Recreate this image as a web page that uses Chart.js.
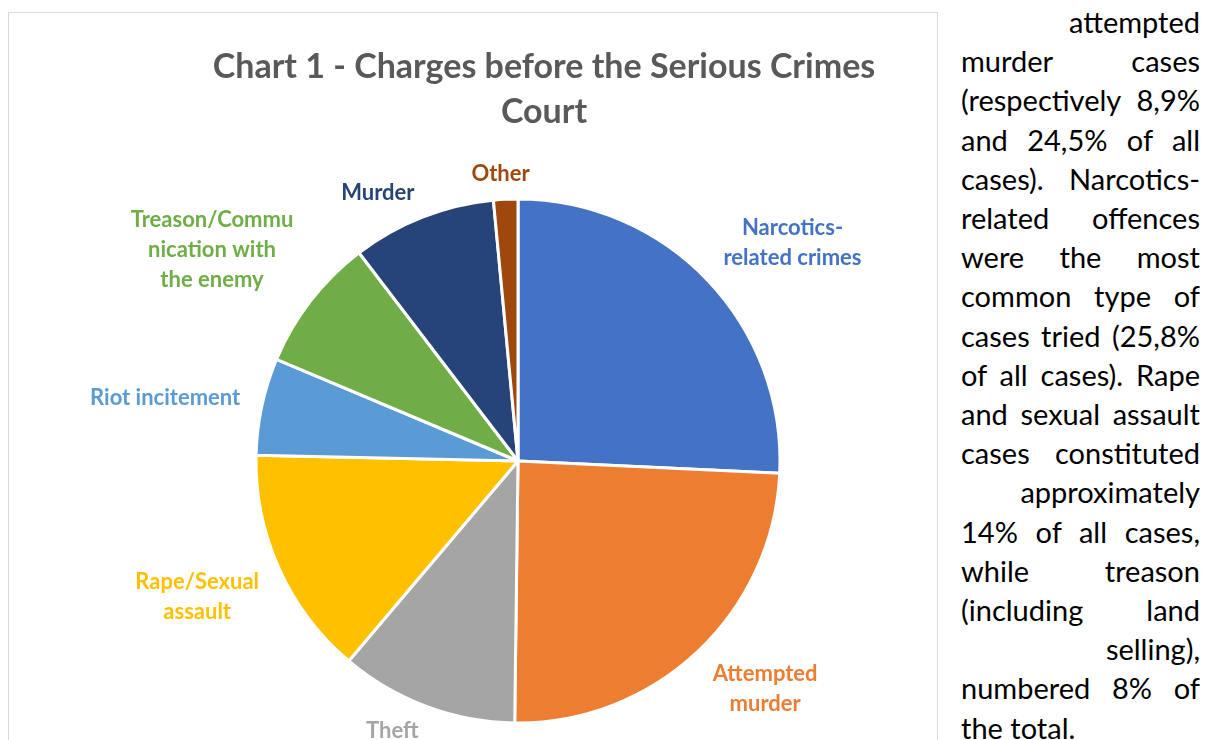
<!DOCTYPE html>
<html>
<head>
<meta charset="utf-8">
<script src="https://cdn.jsdelivr.net/npm/chart.js@4.4.0/dist/chart.umd.min.js"></script>
<style>
  body { margin: 0; background: #fff; width: 1206px; height: 740px; overflow: hidden; position: relative; font-family: Lato, "Open Sans", sans-serif; }
  #box { position: absolute; left: 8px; top: 12px; width: 928px; height: 760px; border: 1.5px solid #d9d9d9; }
  #chart { position: absolute; left: 0; top: 0; }
  #title { position: absolute; left: 144px; top: 42px; width: 800px; text-align: center; font-weight: bold; font-size: 34px; line-height: 45px; color: #595959; }
  #text { position: absolute; left: 961px; top: 2px; width: 239px; font-size: 29px; line-height: 39.2px; color: #000; }
  #text div { white-space: nowrap; text-align: justify; text-align-last: justify; }
  #text div.r { text-align: right; text-align-last: right; }
  #text div.l { text-align: left; text-align-last: left; }
</style>
</head>
<body>
<div id="box">
  <canvas id="chart" width="928" height="740"></canvas>
</div>
<div id="title">Chart 1 - Charges before the Serious Crimes<br>Court</div>
<div id="text">
  <div class="r">attempted</div>
  <div>murder cases</div>
  <div>(respectively 8,9%</div>
  <div>and 24,5% of all</div>
  <div>cases). Narcotics-</div>
  <div>related offences</div>
  <div>were the most</div>
  <div>common type of</div>
  <div>cases tried (25,8%</div>
  <div>of all cases). Rape</div>
  <div>and sexual assault</div>
  <div>cases constituted</div>
  <div class="r">approximately</div>
  <div>14% of all cases,</div>
  <div>while treason</div>
  <div>(including land</div>
  <div class="r">selling),</div>
  <div>numbered 8% of</div>
  <div class="l">the total.</div>
</div>
<script>
const categories = [
    "Narcotics-related crimes",
    "Attempted murder",
    "Theft",
    "Rape/Sexual assault",
    "Riot incitement",
    "Treason/Communication with the enemy",
    "Murder",
    "Other"
];

// share of all cases, %
const shares = [25.8, 24.5, 11.0, 14.2, 6.0, 8.3, 8.9, 1.5];

// how Excel wrapped the data labels
const labelLines = [
    ["Narcotics-", "related crimes"],
    ["Attempted", "murder"],
    ["Theft"],
    ["Rape/Sexual", "assault"],
    ["Riot incitement"],
    ["Treason/Commu", "nication with", "the enemy"],
    ["Murder"],
    ["Other"]
];

const sliceColors = [
    "#4472C4", "#ED7D31", "#A5A5A5", "#FFC000",
    "#5B9BD5", "#70AD47", "#264478", "#9E480E"
];

const clamp = v => Math.max(-1, Math.min(1, v));

// data labels at the outside end of each slice
const outsideLabels = {
    id: "outsideLabels",
    afterDatasetsDraw(chart) {
        const ctx = chart.ctx;
        const meta = chart.getDatasetMeta(0);
        ctx.save();
        ctx.font = "bold 22px Lato, 'Open Sans', sans-serif";
        ctx.textAlign = "center";
        ctx.textBaseline = "middle";
        const lineH = 30;
        meta.data.forEach((arc, i) => {
            const p = arc.getProps(["x", "y", "startAngle", "endAngle", "outerRadius"], true);
            const mid = (p.startAngle + p.endAngle) / 2;
            const cos = Math.cos(mid), sin = Math.sin(mid);
            const ax = p.x + cos * (p.outerRadius + 22);
            const ay = p.y + sin * (p.outerRadius + 10);
            const lines = labelLines[i];
            const w = Math.max(...lines.map(t => ctx.measureText(t).width));
            const h = lines.length * lineH;
            const cx = ax + clamp(cos * 3) * w / 2;
            const cy = ay + clamp(sin * 2) * h / 2;
            ctx.fillStyle = sliceColors[i];
            lines.forEach((t, k) => {
                ctx.fillText(t, cx, cy - h / 2 + lineH / 2 + k * lineH);
            });
        });
        ctx.restore();
    }
};

new Chart(
document.getElementById("chart"),
{
    type: "pie",
    data: {
        labels: categories,
        datasets: [{
            data: shares,
            backgroundColor: sliceColors,
            borderColor: "#ffffff",
            borderWidth: 3
        }]
    },
    options: {
        responsive: false,
        animation: false,
        radius: 262,
        layout: {
            padding: { left: 100, right: 10, top: 166, bottom: 10 }
        },
        plugins: {
            legend: { display: false },
            tooltip: { enabled: false }
        }
    },
    plugins: [outsideLabels]
}
);
</script>
</body>
</html>
